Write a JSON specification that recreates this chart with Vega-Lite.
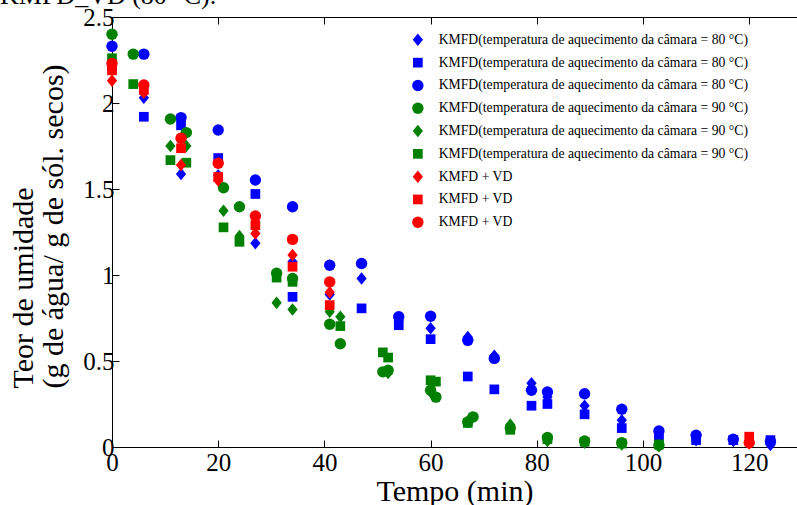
{
  "$schema": "https://vega.github.io/schema/vega-lite/v6.json",
  "autosize": {"type": "none"},
  "width": 685,
  "height": 430,
  "padding": {"left": 112, "top": 17, "right": 0, "bottom": 58},
  "background": "white",
  "title": {
    "text": "KMFD_VD (80 °C).",
    "anchor": "start",
    "frame": "group",
    "orient": "top",
    "offset": 0,
    "dx": -112,
    "baseline": "alphabetic",
    "dy": 25,
    "font": "Liberation Serif",
    "fontSize": 26,
    "fontWeight": "normal",
    "color": "black"
  },
  "config": {
    "view": {"stroke": null},
    "axis": {
      "domainColor": "black",
      "tickColor": "black",
      "labelColor": "black",
      "titleColor": "black",
      "labelFont": "Liberation Serif",
      "titleFont": "Liberation Serif",
      "labelFontSize": 25,
      "titleFontSize": 30,
      "titleFontWeight": "normal",
      "grid": false
    },
    "legend": {
      "labelFont": "Liberation Serif",
      "labelFontSize": 13.7,
      "labelColor": "black",
      "labelLimit": 0
    }
  },
  "data": {
    "values": [
      {"serie": "a1", "t": 0, "u": 2.24}, {"serie": "a1", "t": 6, "u": 2.03}, {"serie": "a1", "t": 13, "u": 1.587}, {"serie": "a1", "t": 20, "u": 1.58},
      {"serie": "a1", "t": 27, "u": 1.184}, {"serie": "a1", "t": 34, "u": 1.077}, {"serie": "a1", "t": 41, "u": 0.887}, {"serie": "a1", "t": 47, "u": 0.98},
      {"serie": "a1", "t": 54, "u": 0.735}, {"serie": "a1", "t": 60, "u": 0.69}, {"serie": "a1", "t": 67, "u": 0.64}, {"serie": "a1", "t": 72, "u": 0.53},
      {"serie": "a1", "t": 79, "u": 0.37}, {"serie": "a1", "t": 82, "u": 0.29}, {"serie": "a1", "t": 89, "u": 0.24}, {"serie": "a1", "t": 96, "u": 0.155},
      {"serie": "a1", "t": 103, "u": 0.06}, {"serie": "a1", "t": 110, "u": 0.04}, {"serie": "a1", "t": 117, "u": 0.035}, {"serie": "a1", "t": 124, "u": 0.012},

      {"serie": "a2", "t": 0, "u": 2.21}, {"serie": "a2", "t": 6, "u": 1.92}, {"serie": "a2", "t": 13, "u": 1.87}, {"serie": "a2", "t": 20, "u": 1.68},
      {"serie": "a2", "t": 27, "u": 1.471}, {"serie": "a2", "t": 34, "u": 0.873}, {"serie": "a2", "t": 47, "u": 0.806},
      {"serie": "a2", "t": 54, "u": 0.708}, {"serie": "a2", "t": 60, "u": 0.627}, {"serie": "a2", "t": 67, "u": 0.41}, {"serie": "a2", "t": 72, "u": 0.335},
      {"serie": "a2", "t": 79, "u": 0.24}, {"serie": "a2", "t": 82, "u": 0.25}, {"serie": "a2", "t": 89, "u": 0.19}, {"serie": "a2", "t": 96, "u": 0.11},
      {"serie": "a2", "t": 103, "u": 0.06}, {"serie": "a2", "t": 110, "u": 0.04}, {"serie": "a2", "t": 117, "u": 0.04}, {"serie": "a2", "t": 124, "u": 0.04},

      {"serie": "a3", "t": 0, "u": 2.33}, {"serie": "a3", "t": 6, "u": 2.284}, {"serie": "a3", "t": 13, "u": 1.915}, {"serie": "a3", "t": 20, "u": 1.843},
      {"serie": "a3", "t": 27, "u": 1.552}, {"serie": "a3", "t": 34, "u": 1.397}, {"serie": "a3", "t": 41, "u": 1.057}, {"serie": "a3", "t": 47, "u": 1.067},
      {"serie": "a3", "t": 54, "u": 0.757}, {"serie": "a3", "t": 60, "u": 0.76}, {"serie": "a3", "t": 67, "u": 0.62}, {"serie": "a3", "t": 72, "u": 0.515},
      {"serie": "a3", "t": 79, "u": 0.33}, {"serie": "a3", "t": 82, "u": 0.32}, {"serie": "a3", "t": 89, "u": 0.31}, {"serie": "a3", "t": 96, "u": 0.22},
      {"serie": "a3", "t": 103, "u": 0.093}, {"serie": "a3", "t": 110, "u": 0.068}, {"serie": "a3", "t": 117, "u": 0.045}, {"serie": "a3", "t": 124, "u": 0.032},

      {"serie": "b1", "t": 0, "u": 2.4}, {"serie": "b1", "t": 4, "u": 2.284}, {"serie": "b1", "t": 11, "u": 1.907}, {"serie": "b1", "t": 14, "u": 1.828},
      {"serie": "b1", "t": 21, "u": 1.507}, {"serie": "b1", "t": 24, "u": 1.397}, {"serie": "b1", "t": 31, "u": 1.01}, {"serie": "b1", "t": 34, "u": 0.98},
      {"serie": "b1", "t": 41, "u": 0.714}, {"serie": "b1", "t": 43, "u": 0.6}, {"serie": "b1", "t": 51, "u": 0.437}, {"serie": "b1", "t": 52, "u": 0.446},
      {"serie": "b1", "t": 60, "u": 0.33}, {"serie": "b1", "t": 61, "u": 0.29}, {"serie": "b1", "t": 67, "u": 0.145}, {"serie": "b1", "t": 68, "u": 0.175},
      {"serie": "b1", "t": 75, "u": 0.11}, {"serie": "b1", "t": 82, "u": 0.055}, {"serie": "b1", "t": 89, "u": 0.035}, {"serie": "b1", "t": 96, "u": 0.025},
      {"serie": "b1", "t": 103, "u": 0.01},

      {"serie": "b2", "t": 0, "u": 2.25}, {"serie": "b2", "t": 11, "u": 1.75}, {"serie": "b2", "t": 14, "u": 1.75}, {"serie": "b2", "t": 21, "u": 1.374},
      {"serie": "b2", "t": 24, "u": 1.226}, {"serie": "b2", "t": 31, "u": 0.838}, {"serie": "b2", "t": 34, "u": 0.8}, {"serie": "b2", "t": 41, "u": 0.786},
      {"serie": "b2", "t": 43, "u": 0.757}, {"serie": "b2", "t": 52, "u": 0.43}, {"serie": "b2", "t": 60, "u": 0.32}, {"serie": "b2", "t": 67, "u": 0.15},
      {"serie": "b2", "t": 75, "u": 0.13}, {"serie": "b2", "t": 82, "u": 0.035}, {"serie": "b2", "t": 89, "u": 0.025}, {"serie": "b2", "t": 96, "u": 0.015},
      {"serie": "b2", "t": 103, "u": 0.005},

      {"serie": "b3", "t": 0, "u": 2.26}, {"serie": "b3", "t": 4, "u": 2.11}, {"serie": "b3", "t": 11, "u": 1.668}, {"serie": "b3", "t": 14, "u": 1.653},
      {"serie": "b3", "t": 21, "u": 1.277}, {"serie": "b3", "t": 24, "u": 1.193}, {"serie": "b3", "t": 31, "u": 0.985}, {"serie": "b3", "t": 34, "u": 0.96},
      {"serie": "b3", "t": 43, "u": 0.703}, {"serie": "b3", "t": 51, "u": 0.55}, {"serie": "b3", "t": 52, "u": 0.52}, {"serie": "b3", "t": 60, "u": 0.388},
      {"serie": "b3", "t": 61, "u": 0.38}, {"serie": "b3", "t": 67, "u": 0.14}, {"serie": "b3", "t": 75, "u": 0.1}, {"serie": "b3", "t": 82, "u": 0.045},
      {"serie": "b3", "t": 89, "u": 0.03}, {"serie": "b3", "t": 96, "u": 0.02}, {"serie": "b3", "t": 103, "u": 0.015},

      {"serie": "c1", "t": 0, "u": 2.13}, {"serie": "c1", "t": 6, "u": 2.06}, {"serie": "c1", "t": 13, "u": 1.64}, {"serie": "c1", "t": 20, "u": 1.55},
      {"serie": "c1", "t": 27, "u": 1.242}, {"serie": "c1", "t": 34, "u": 1.116}, {"serie": "c1", "t": 41, "u": 0.9}, {"serie": "c1", "t": 120, "u": 0.02},

      {"serie": "c2", "t": 0, "u": 2.19}, {"serie": "c2", "t": 6, "u": 2.076}, {"serie": "c2", "t": 13, "u": 1.737}, {"serie": "c2", "t": 20, "u": 1.57},
      {"serie": "c2", "t": 27, "u": 1.29}, {"serie": "c2", "t": 34, "u": 1.048}, {"serie": "c2", "t": 41, "u": 0.825}, {"serie": "c2", "t": 120, "u": 0.06},

      {"serie": "c3", "t": 0, "u": 2.23}, {"serie": "c3", "t": 6, "u": 2.105}, {"serie": "c3", "t": 13, "u": 1.795}, {"serie": "c3", "t": 20, "u": 1.65},
      {"serie": "c3", "t": 27, "u": 1.343}, {"serie": "c3", "t": 34, "u": 1.207}, {"serie": "c3", "t": 41, "u": 0.96}, {"serie": "c3", "t": 120, "u": 0.025}
    ]
  },
  "layer": [
    {
      "mark": {"type": "point", "filled": true, "opacity": 1, "size": 130},
      "encoding": {
        "x": {
          "field": "t", "type": "quantitative",
          "scale": {"domain": [0, 129], "nice": false, "zero": false},
          "axis": {
            "orient": "bottom",
            "values": [0, 20, 40, 60, 80, 100, 120],
            "tickSize": -7,
            "labelPadding": 10,
            "labelFlush": false,
            "title": "Tempo (min)",
            "titleBaseline": "alphabetic",
            "titleY": 53
          }
        },
        "y": {
          "field": "u", "type": "quantitative",
          "scale": {"domain": [0, 2.5], "nice": false},
          "axis": {
            "orient": "left",
            "values": [0, 0.5, 1, 1.5, 2, 2.5],
            "labelExpr": "'' + datum.value",
            "tickSize": -7,
            "labelPadding": 5,
            "labelFlush": false,
            "title": ["Teor de umidade", "(g de água/ g de sól. secos)"],
            "titleBaseline": "alphabetic",
            "titleLineHeight": 30,
            "titleAngle": -90,
            "titleAlign": "left",
            "titleX": -80,
            "titleY": 371
          }
        },
        "color": {
          "field": "serie", "type": "nominal",
          "scale": {
            "domain": ["a1", "a2", "a3", "b1", "b2", "b3", "c1", "c2", "c3"],
            "range": ["#0000ff", "#0000ff", "#0000ff", "#008000", "#008000", "#008000", "#ff0000", "#ff0000", "#ff0000"]
          },
          "legend": {
            "orient": "none",
            "legendX": 299,
            "legendY": 16,
            "title": null,
            "padding": 0,
            "rowPadding": 7.8,
            "symbolSize": 130,
            "symbolType": "circle",
            "labelOffset": 14,
            "labelLimit": 0,
            "labelExpr": "datum.value[0] == 'a' ? 'KMFD(temperatura de aquecimento da câmara = 80 °C)' : datum.value[0] == 'b' ? 'KMFD(temperatura de aquecimento da câmara = 90 °C)' : 'KMFD + VD'"
          }
        },
        "shape": {
          "field": "serie", "type": "nominal",
          "scale": {
            "domain": ["a1", "a2", "a3", "b1", "b2", "b3", "c1", "c2", "c3"],
            "range": [
              "M0,-1.1L0.9,0L0,1.1L-0.9,0Z",
              "M-0.85,-0.85H0.85V0.85H-0.85Z",
              "circle",
              "circle",
              "M0,-1.1L0.9,0L0,1.1L-0.9,0Z",
              "M-0.85,-0.85H0.85V0.85H-0.85Z",
              "M0,-1.1L0.9,0L0,1.1L-0.9,0Z",
              "M-0.85,-0.85H0.85V0.85H-0.85Z",
              "circle"
            ]
          }
        }
      }
    },
    {
      "mark": {"type": "point", "opacity": 0},
      "encoding": {
        "x": {
          "field": "t", "type": "quantitative",
          "axis": {
            "orient": "top",
            "values": [0, 20, 40, 60, 80, 100, 120],
            "tickSize": -7,
            "labels": false,
            "title": null
          }
        },
        "y": {"field": "u", "type": "quantitative", "axis": null}
      }
    }
  ],
  "resolve": {"axis": {"x": "independent", "y": "independent"}}
}
